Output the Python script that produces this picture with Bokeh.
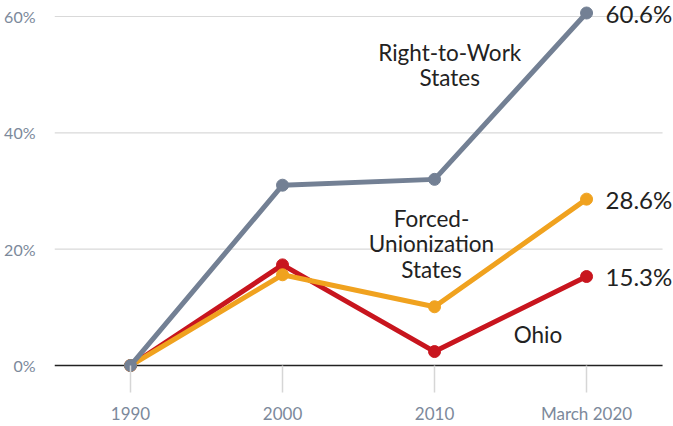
from bokeh.plotting import figure
from bokeh.models import (FixedTicker, PrintfTickFormatter, Label, Range1d)
from bokeh.embed import file_html
from bokeh.resources import INLINE

# ---- data ----
x_labels = ["1990", "2000", "2010", "March 2020"]
right_to_work = [0.0, 31.0, 32.0, 60.6]
forced_union = [0.0, 15.6, 10.1, 28.6]
ohio = [0.0, 17.3, 2.4, 15.3]
y_ticks = [0, 20, 40, 60]

GREY = "#738094"
ORANGE = "#f0a21f"
RED = "#c8151e"
TICK_COL = "#7c899b"
FONT = "Lato"

xs = list(range(len(x_labels)))
x_lo, x_hi = -0.5, len(x_labels) - 0.5   # extent of the grid lines

p = figure(width=673, height=426, output_backend="svg", toolbar_location=None,
           x_range=Range1d(x_lo, x_hi + 0.072), y_range=Range1d(-1.2, 62.75),
           min_border_left=54, min_border_right=0, min_border_top=0,
           min_border_bottom=53)
p.outline_line_color = None
p.background_fill_color = "white"

# axes
p.xaxis.ticker = FixedTicker(ticks=xs)
p.xaxis.major_label_overrides = {i: s for i, s in enumerate(x_labels)}
p.xaxis.axis_line_color = None
p.xaxis.major_tick_line_color = "#d6d6d6"
p.xaxis.major_tick_line_width = 1.5
p.xaxis.major_tick_in = 7
p.xaxis.major_tick_out = 20
p.xaxis.minor_tick_line_color = None
p.xaxis.major_label_standoff = 10
p.xaxis.major_label_text_font = FONT
p.xaxis.major_label_text_font_size = "17px"
p.xaxis.major_label_text_color = TICK_COL

p.yaxis.ticker = FixedTicker(ticks=y_ticks)
p.yaxis.formatter = PrintfTickFormatter(format="%d%%")
p.yaxis.axis_line_color = None
p.yaxis.major_tick_line_color = None
p.yaxis.minor_tick_line_color = None
p.yaxis.major_label_standoff = 13
p.yaxis.major_label_text_font = FONT
p.yaxis.major_label_text_font_size = "16px"
p.yaxis.major_label_text_color = TICK_COL

p.xgrid.grid_line_color = None
p.ygrid.grid_line_color = None

# horizontal grid lines (light) and zero line (dark), limited to the category extent
grid_vals = [v for v in y_ticks if v != 0]
p.segment(x0=[x_lo] * len(grid_vals), x1=[x_hi] * len(grid_vals), y0=grid_vals, y1=grid_vals,
          line_color="#d9d9d9", line_width=1.2)
p.segment(x0=[x_lo], x1=[x_hi], y0=[0], y1=[0], line_color="#222222", line_width=1.5)

for ys, col in [(ohio, RED), (forced_union, ORANGE), (right_to_work, GREY)]:
    p.line(xs, ys, line_color=col, line_width=5)
    p.scatter(xs, ys, size=12, fill_color=col, line_color=col)

# value labels
for ys in [right_to_work, forced_union, ohio]:
    p.add_layout(Label(x=xs[-1], y=ys[-1], x_offset=19, y_offset=0,
                       text=f"{ys[-1]:.1f}%", text_font=FONT, text_font_size="24px",
                       text_color="#222222", text_baseline="middle", text_align="left"))

# series names
p.add_layout(Label(x=2.1, y=56.2, text="Right-to-Work\nStates", text_font=FONT,
                   text_font_size="22.5px", text_color="#222222", text_align="center",
                   text_baseline="top", text_line_height=0.94))
p.add_layout(Label(x=1.98, y=27.6, text="Forced-\nUnionization\nStates", text_font=FONT,
                   text_font_size="22.5px", text_color="#222222", text_align="center",
                   text_baseline="top", text_line_height=0.94))
p.add_layout(Label(x=2.68, y=5.3, text="Ohio", text_font=FONT,
                   text_font_size="22.5px", text_color="#222222", text_align="center",
                   text_baseline="middle"))

open("out.html", "w").write(file_html(p, INLINE))
